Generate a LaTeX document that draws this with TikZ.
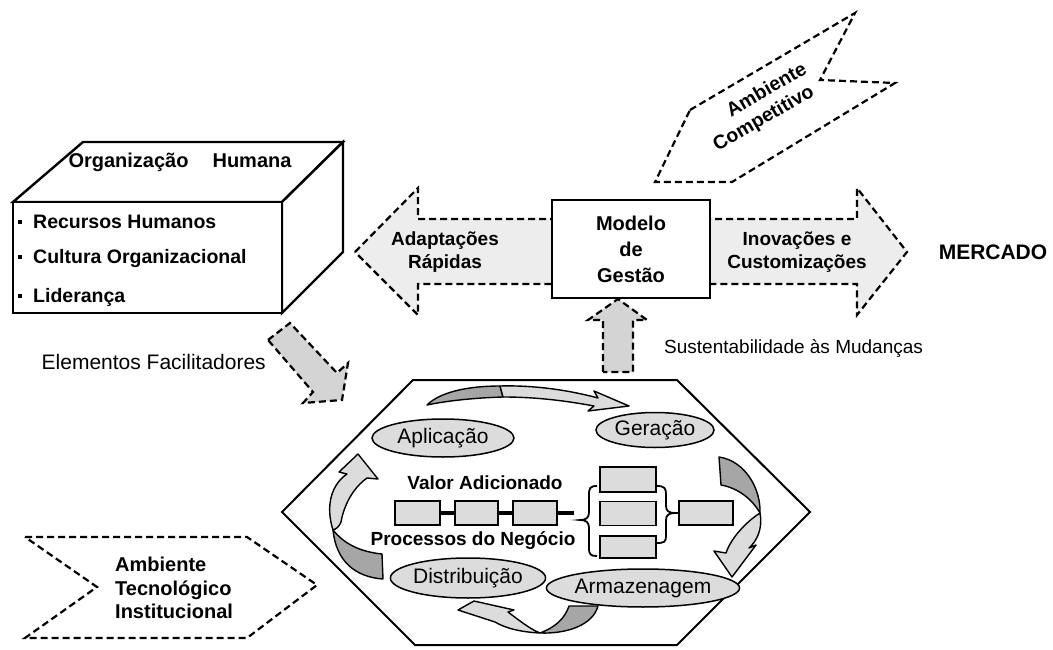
\documentclass[tikz,border=0pt]{standalone}
\usepackage{fontspec}
\setmainfont{Liberation Sans}
\usetikzlibrary{shapes.geometric}
\definecolor{lg}{HTML}{DCDCDC}
\definecolor{dg}{HTML}{A6A6A6}
\definecolor{vlg}{HTML}{EDEDED}
\definecolor{ag}{HTML}{D4D4D4}
\newcommand{\fs}[2]{\fontsize{#1}{#2}\selectfont}
\begin{document}
\begin{tikzpicture}[x=1pt,y=-1pt,
  dsh/.style={draw=black, line width=2.2pt, dash pattern=on 7pt off 4pt},
  solidbox/.style={draw=black, line width=2.4pt, fill=white},
  ell/.style={ellipse, draw=black, line width=1.5pt, fill=lg, inner sep=0pt, font=\fs{21}{23}},
  pbox/.style={rectangle, draw=black, line width=1.5pt, fill=lg, inner sep=0pt},
  carrow/.style={draw=black, line width=1.4pt, line join=round},
  txt/.style={inner sep=0pt},
  bul/.style={inner sep=0pt, anchor=west, font=\bfseries\fs{19.5}{21}}]
\useasboundingbox (0,0) rectangle (1053,650);

% ---- Organizacao Humana box
\draw[solidbox, line join=miter] (13,202) -- (83,142) -- (343,142) -- (282,202) -- cycle;
\draw[solidbox, line join=miter] (282,202) -- (343,142) -- (343,252) -- (282,313) -- cycle;
\draw[solidbox, line join=miter] (13,202) rectangle (282,313);
\node[txt, font=\bfseries\fs{20}{22}] (oh) at (180,162) {Organização\hspace{24pt}Humana};
\node[bul] (b1) at (18,222) {\rule[4.5pt]{4pt}{4pt}\hspace{11pt}Recursos Humanos};
\node[bul] (b2) at (18,259) {\rule[4.5pt]{4pt}{4pt}\hspace{11pt}Cultura Organizacional};
\node[bul] (b3) at (18,297) {\rule[4.5pt]{4pt}{4pt}\hspace{11pt}Liderança};

% ---- Ambiente Competitivo
\draw[dsh] (690,110) -- (855,13) -- (820,80) -- (895,83) -- (732,182) -- (655,182) -- cycle;
\node[txt, rotate=30, font=\bfseries\fs{19.5}{22}] (ac1) at (766,89) {Ambiente};
\node[txt, rotate=30, font=\bfseries\fs{19.5}{22}] (ac2) at (764,119) {Competitivo};

% ---- big double arrow
\draw[dsh, fill=vlg] (355,252) -- (418,188) -- (418,219) -- (857,219) -- (857,188) -- (907,252) -- (857,315) -- (857,284) -- (418,284) -- (418,315) -- cycle;
\node[solidbox, line width=1.6pt, minimum width=158pt, minimum height=98pt, align=center, font=\bfseries\fs{20}{26}] (mg) at (631,249) {Modelo\\de\\Gestão};
\node[txt, align=center, font=\bfseries\fs{19}{23}] (ar) at (445,252) {Adaptações\\Rápidas};
\node[txt, align=center, font=\bfseries\fs{19}{23}] (ic) at (797,252) {Inovações e\\Customizações};
\node[txt, font=\bfseries\fs{21}{24}] (me) at (993,252) {MERCADO};

% ---- up arrow
\draw[dsh, fill=ag] (603,372) -- (603,320) -- (588,320) -- (618,299) -- (647,320) -- (633,320) -- (633,372) -- cycle;
\node[txt, anchor=west, font=\fs{19}{22}] (su) at (664,349) {Sustentabilidade às Mudanças};

% ---- diagonal arrow
\draw[dsh, fill=ag] (268,340) -- (290,323) -- (337,373) -- (348,363) -- (342,400) -- (303,403) -- (313,392) -- cycle;
\node[txt, anchor=east, font=\fs{21}{24}] (ef) at (266,362) {Elementos Facilitadores};

% ---- Ambiente Tecnologico
\draw[dsh] (25,537) -- (247,537) -- (317,585) -- (247,638) -- (25,638) -- (97,587) -- cycle;
\node[txt, anchor=west, align=left, font=\bfseries\fs{20}{23.5}] (at) at (115,588) {Ambiente\\Tecnológico\\Institucional};

% ---- hexagon
\draw[draw=black, line width=2pt, fill=white, line join=miter] (413,380) -- (677,380) -- (810,512) -- (677,645) -- (415,645) -- (282,512) -- cycle;

% curved arrows
\draw[carrow, fill=dg] (427,405) .. controls (440,392) and (468,386) .. (500,386) -- (503,397) .. controls (472,398) and (446,401) .. (427,405) -- cycle;
\draw[carrow, fill=lg] (500,386) .. controls (537,385) and (572,391) .. (598,398) -- (594,391) -- (629,406) -- (588,411) -- (594,406) .. controls (567,401) and (537,397) .. (503,397) -- cycle;

\draw[carrow, fill=dg] (719,457) .. controls (746,461) and (761,490) .. (760,513) .. controls (752,499) and (738,488) .. (721,485) -- cycle;
\draw[carrow, fill=lg] (760,513) .. controls (763,528) and (757,541) .. (749,548) -- (756,545) -- (732,577) -- (714,551) -- (726,553) .. controls (731,538) and (746,522) .. (760,513) -- cycle;

\draw[carrow, fill=dg] (382,554) -- (383,579) .. controls (355,577) and (336,561) .. (333,530) .. controls (345,545) and (362,552) .. (382,554) -- cycle;
\draw[carrow, fill=lg] (333,530) .. controls (325,505) and (332,484) .. (347,474) -- (339,472) -- (358,454) -- (378,479) -- (367,478) .. controls (353,488) and (344,505) .. (341,522) .. controls (339,527) and (336,529) .. (333,530) -- cycle;

\draw[carrow, fill=dg] (569,606) -- (598,606) .. controls (593,625) and (567,634) .. (540,633) .. controls (556,627) and (565,618) .. (569,606) -- cycle;
\draw[carrow, fill=lg] (458,610) -- (474,601) -- (514,610) -- (508,612) .. controls (520,621) and (530,629) .. (540,633) .. controls (520,632) and (505,628) .. (495,622) -- cycle;

% ellipses
\node[ell, minimum width=142pt, minimum height=38pt] (ap) at (443,438) {Aplicação};
\node[ell, minimum width=118pt, minimum height=35pt] (ge) at (655,430) {Geração};
\node[ell, minimum width=134pt, minimum height=40pt] (di) at (468,578) {Distribuição};
\node[ell, minimum width=164pt, minimum height=38pt] (am) at (643,588) {Armazenagem};

% value chain
\coordinate (ls) at (440,513);
\coordinate (le) at (574,513);
\draw[line width=4pt] (ls) -- (le);
\node[pbox, minimum width=45pt, minimum height=24pt] (p1) at (417.5,513) {};
\node[pbox, minimum width=43pt, minimum height=24pt] (p2) at (476.5,513) {};
\node[pbox, minimum width=44pt, minimum height=24pt] (p3) at (535,513) {};
\node[pbox, minimum width=56pt, minimum height=25pt] (s1) at (628,479.5) {};
\node[pbox, minimum width=56pt, minimum height=24pt] (s2) at (628,513.5) {};
\node[pbox, minimum width=56pt, minimum height=22pt] (s3) at (628,547) {};
\node[pbox, minimum width=54pt, minimum height=24pt] (r1) at (706,513) {};
\draw[line width=1.8pt] (597,486) .. controls (590,486) and (589,488) .. (589,495) -- (589,512) .. controls (589,518) and (586,520) .. (580,520) .. controls (586,520) and (589,522) .. (589,528) -- (589,548) .. controls (589,555) and (591,556) .. (597,556);
\draw[line width=1.8pt] (657,486) .. controls (664,486) and (666,488) .. (666,494) -- (666,506) .. controls (666,511) and (669,513) .. (675,513) .. controls (669,513) and (666,515) .. (666,520) -- (666,536) .. controls (666,542) and (664,543) .. (657,543);
\draw[line width=1.8pt] (675,513) -- (r1.west);
\node[txt, font=\bfseries\fs{19}{22}] (va) at (485,483) {Valor Adicionado};
\node[txt, font=\bfseries\fs{19}{22}] (pn) at (473,541) {Processos do Negócio};
\end{tikzpicture}
\end{document}
